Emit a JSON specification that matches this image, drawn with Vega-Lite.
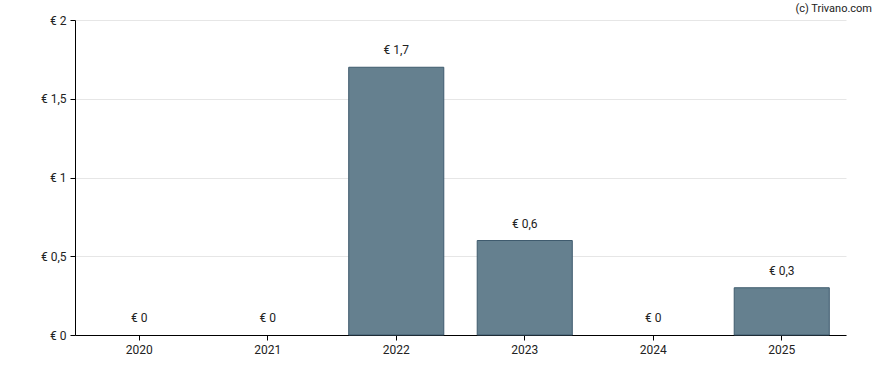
{
  "$schema": "https://vega.github.io/schema/vega-lite/v6.json",
  "width": 771,
  "height": 315,
  "autosize": "none",
  "padding": {"left": 75, "top": 20, "right": 42, "bottom": 35},
  "background": "white",
  "title": {"text": "(c) Trivano.com", "anchor": "end", "orient": "top", "frame": "group", "offset": 0, "dx": 26, "fontSize": 11, "fontWeight": "normal", "font": "Roboto", "color": "#222"},
  "config": {"view": {"stroke": null}, "font": "Roboto"},
  "data": {"values": [
    {"year": "2020", "value": 0},
    {"year": "2021", "value": 0},
    {"year": "2022", "value": 1.7},
    {"year": "2023", "value": 0.6},
    {"year": "2024", "value": 0},
    {"year": "2025", "value": 0.3}
  ]},
  "encoding": {
    "x": {"field": "year", "type": "ordinal", "scale": {"paddingInner": 0.26, "paddingOuter": 0.13}, "axis": {"title": null, "labelAngle": 0, "labelFontSize": 12, "labelColor": "#222", "domainColor": "#000", "tickColor": "#000", "tickSize": 5, "labelPadding": 4, "grid": false}},
    "y": {"field": "value", "type": "quantitative", "scale": {"domain": [0, 2]}, "axis": {"title": null, "values": [0, 0.5, 1, 1.5, 2], "labelExpr": "'€ ' + replace(toString(datum.value), '.', ',')", "labelFontSize": 12, "labelColor": "#222", "domainColor": "#000", "tickColor": "#000", "tickSize": 5, "labelPadding": 4, "gridColor": "#e6e6e6"}}
  },
  "layer": [
    {"transform": [{"filter": "datum.value > 0"}],
     "mark": {"type": "bar", "color": "#65808f", "stroke": "#3f5b6e", "strokeWidth": 1}},
    {"mark": {"type": "text", "baseline": "bottom", "dy": -10, "fontSize": 12, "color": "#222"},
     "encoding": {"text": {"value": {"expr": "'€ ' + replace(toString(datum.value), '.', ',')"}}}}
  ]
}
